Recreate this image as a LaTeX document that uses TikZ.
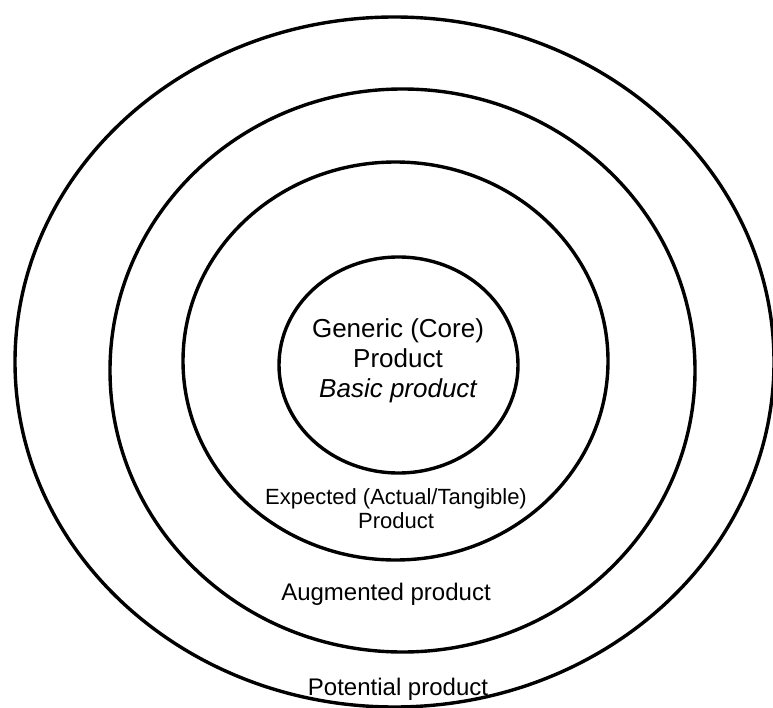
\documentclass[tikz,border=0pt]{standalone}
\usepackage{fontspec}
\setmainfont{Liberation Sans}
\begin{document}
\begin{tikzpicture}[x=1pt,y=-1pt,
  ring/.style={draw=black,line width=3.4pt},
  lbl/.style={inner sep=0pt,align=center,text=black}]
\useasboundingbox (0,0) rectangle (773,708);
\clip (0,0) rectangle (773,708);
\draw[ring] (394.5,362) ellipse [x radius=379.5, y radius=345];
\draw[ring] (402.5,370.5) ellipse [x radius=292.5, y radius=281.5];
\draw[ring] (395.5,361) ellipse [x radius=212.5, y radius=199];
\draw[ring] (398.5,365) ellipse [x radius=119.5, y radius=108];
\node[lbl,font=\fontsize{26}{30}\selectfont] (core) at (398,361) {Generic (Core)\\Product\\\itshape Basic product};
\node[lbl,font=\fontsize{22}{24}\selectfont] (expected) at (396,509) {Expected (Actual/Tangible)\\Product};
\node[lbl,font=\fontsize{24}{28}\selectfont] (augmented) at (386,594) {Augmented product};
\node[lbl,font=\fontsize{24}{28}\selectfont] (potential) at (398,689) {Potential product};
\end{tikzpicture}
\end{document}
